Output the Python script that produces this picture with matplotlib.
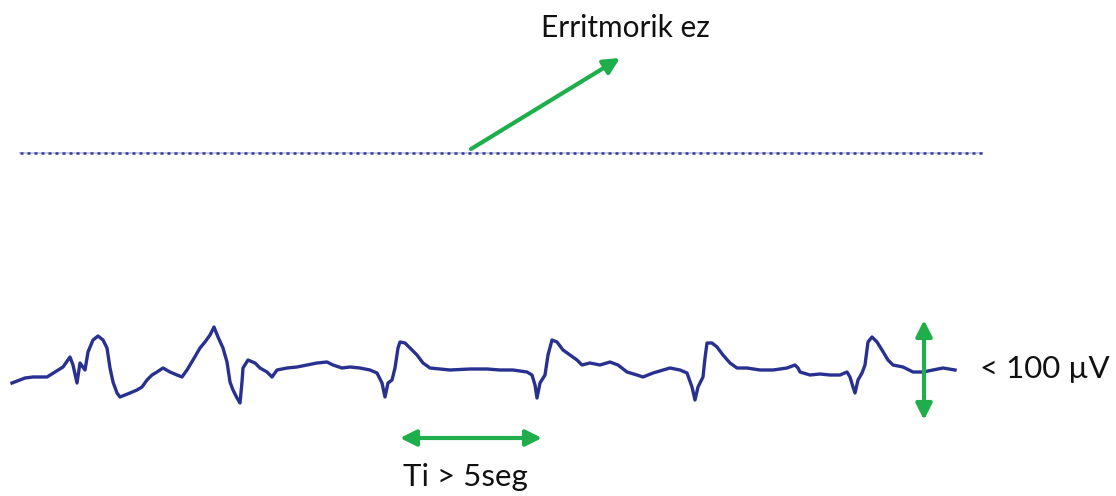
import numpy as np
import matplotlib.pyplot as plt

# EEG traces, in page pixels (x to the right, y downward)
flat_x = [20, 982]
flat_y = [153, 153]

trace_x = [12, 25, 33, 47, 55, 63, 70, 73, 77, 80, 85, 88, 93, 98, 103, 107,
           110, 113, 117, 120, 125, 130, 137, 142, 147, 152, 157, 163, 170,
           177, 182, 187, 193, 200, 205, 210, 214, 218, 223, 227, 230, 233,
           237, 240, 242, 243, 248, 255, 260, 267, 272, 277, 287, 297, 307,
           317, 327, 333, 342, 350, 360, 370, 377, 382, 385, 388, 392, 395,
           398, 400, 405, 410, 417, 423, 430, 450, 470, 487, 500, 513, 527,
           532, 535, 537, 540, 545, 548, 552, 557, 563, 570, 577, 582, 590,
           600, 610, 618, 627, 637, 643, 653, 663, 670, 680, 687, 692, 695,
           698, 703, 705, 707, 712, 717, 723, 730, 737, 747, 760, 773, 787,
           795, 798, 800, 810, 820, 830, 840, 847, 850, 853, 855, 858, 862,
           865, 868, 872, 877, 882, 888, 893, 903, 913, 923, 933, 943, 955]
trace_y = [383, 378, 377, 377, 372, 367, 357, 365, 383, 363, 370, 352, 340,
           336, 340, 348, 368, 382, 393, 397, 395, 393, 390, 387, 380, 375,
           372, 368, 372, 375, 377, 370, 360, 348, 342, 335, 327, 337, 348,
           362, 382, 390, 398, 403, 382, 368, 360, 363, 368, 372, 377, 370,
           368, 367, 365, 363, 362, 365, 368, 367, 368, 370, 373, 383, 397,
           383, 380, 368, 348, 342, 343, 348, 355, 363, 368, 370, 369, 369,
           370, 370, 372, 375, 385, 398, 383, 375, 355, 340, 342, 350, 355,
           360, 365, 363, 365, 362, 365, 372, 375, 377, 373, 370, 368, 370,
           373, 387, 400, 387, 377, 358, 343, 343, 347, 355, 363, 368, 368,
           370, 370, 368, 365, 368, 372, 375, 374, 375, 375, 372, 377, 387,
           393, 380, 373, 365, 342, 337, 342, 350, 360, 365, 367, 372, 372,
           370, 368, 370]

green = '#1fae4c'
blue = '#28318f'

fig = plt.figure(figsize=(11.16, 4.96), dpi=100)
ax = fig.add_axes([0, 0, 1, 1])
ax.set_xlim(0, 1116)
ax.set_ylim(496, 0)
ax.axis('off')

# rhythmless flat line
ax.plot(flat_x, flat_y, color='#c9cdea', lw=1.4)
ax.plot(flat_x, flat_y, color='#353b90', lw=1.8, ls=(0, (1.2, 1.6)))

# lower trace
ax.plot(trace_x, trace_y, color=blue, lw=2.4, solid_joinstyle='round')

arrow = dict(arrowstyle='-|>', color=green, lw=3, mutation_scale=24,
             shrinkA=0, shrinkB=0)
double = dict(arrowstyle='<|-|>', color=green, lw=3, mutation_scale=24,
              shrinkA=0, shrinkB=0)
ax.annotate('', xy=(620, 58), xytext=(471, 149), arrowprops=arrow)
ax.annotate('', xy=(400, 438), xytext=(542, 438), arrowprops=double)
ax.annotate('', xy=(924, 320), xytext=(924, 420), arrowprops=double)

font = ['Lato', 'DejaVu Sans']
ax.text(625, 28, 'Erritmorik ez', fontsize=21.5, family=font,
        ha='center', va='center', color='#111111')
ax.text(465, 477, 'Ti > 5seg', fontsize=22.5, family=font,
        ha='center', va='center', color='#111111')
ax.text(980, 369, '< 100 µV', fontsize=22.5, family=font,
        ha='left', va='center', color='#111111')

fig.savefig('out.png', dpi=100)
